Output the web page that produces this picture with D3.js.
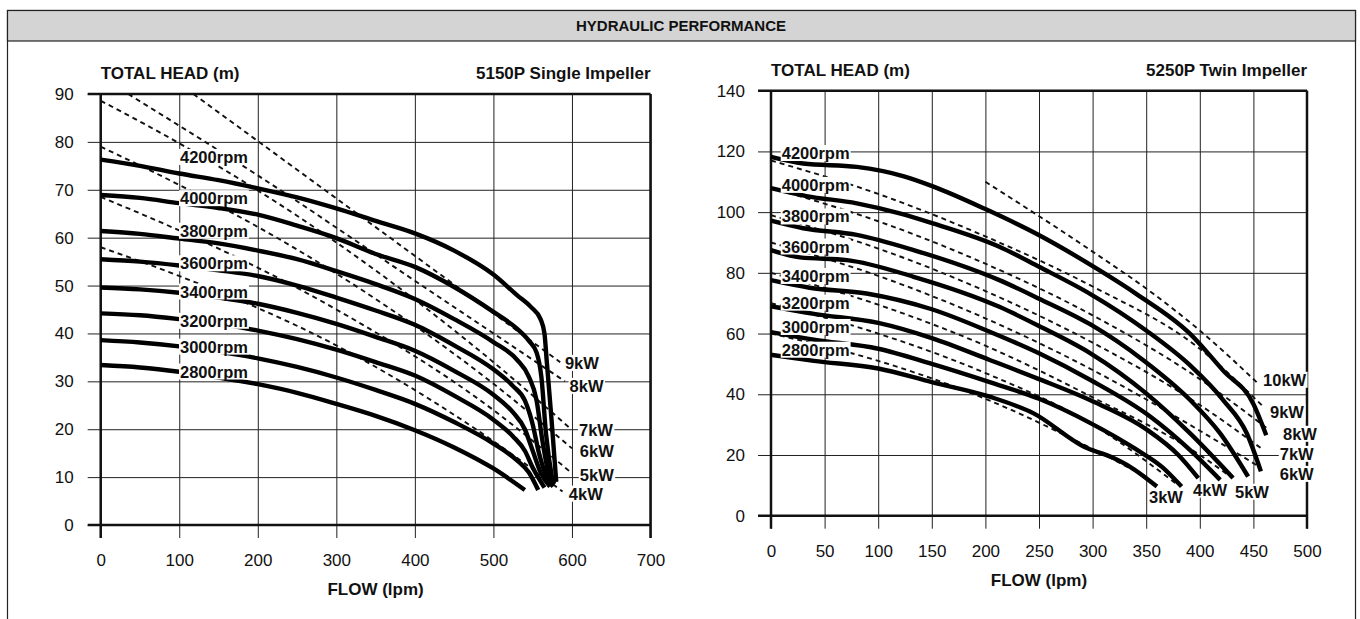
<!DOCTYPE html>
<html>
<head>
<meta charset="utf-8">
<script src="https://d3js.org/d3.v7.min.js"></script>
<style>
  body { margin: 0; background: #fff; }
  svg text { font-family: "Liberation Sans", Arial, sans-serif; fill: #111; }
</style>
</head>
<body>
<svg id="chart" width="1360" height="619"></svg>
<script>
// values (flow lpm, head m)

// 5150P single impeller
const singleFlowTicks = [0, 100, 200, 300, 400, 500, 600, 700];
const singleHeadTicks = [0, 10, 20, 30, 40, 50, 60, 70, 80, 90];
const singleSpeeds = ["4200rpm", "4000rpm", "3800rpm", "3600rpm", "3400rpm", "3200rpm", "3000rpm", "2800rpm"];
const singleCurves = [
  [[0,76.3],[50,75],[100,73.4],[150,72],[200,70.3],[250,68.4],[300,66.1],[350,63.5],[400,60.9],[450,57.3],[500,52.3],[530,48],[548,45.5],[560,43],[565,40],[568,34],[574,22],[580,9]],
  [[0,68.9],[50,68.3],[100,67.2],[150,66.2],[200,64.8],[250,62.5],[300,59.9],[350,56.6],[400,53.9],[450,49.7],[500,44.5],[530,41],[545,38.5],[555,36],[561,31],[567,19],[576,8.5]],
  [[0,61.4],[50,60.8],[100,59.8],[150,58.8],[200,57.3],[250,55.5],[300,53],[350,50.3],[400,47.2],[450,43],[500,38.2],[530,34.5],[545,31],[555,26],[562,18],[570,11],[578,8.5]],
  [[0,55.5],[50,55],[100,54.2],[150,53.2],[200,52],[250,50],[300,47.5],[350,44.8],[400,41.8],[450,37.5],[500,32.5],[525,29],[540,26],[550,21],[558,15],[568,10],[576,8]],
  [[0,49.6],[50,49.2],[100,48.5],[150,47.5],[200,46.2],[250,44.3],[300,42],[350,39.3],[400,36.4],[450,32.2],[500,27.2],[525,23.5],[540,20],[550,15.5],[560,11],[572,8]],
  [[0,44.2],[50,43.8],[100,43],[150,42],[200,40.6],[250,38.8],[300,36.6],[350,34],[400,31.2],[450,27],[500,22],[525,18.5],[540,15.5],[550,12],[565,7.8]],
  [[0,38.6],[50,38.1],[100,37.3],[150,36.2],[200,34.8],[250,33],[300,30.8],[350,28.2],[400,25.3],[450,21.5],[500,17],[530,13.5],[545,11],[557,7.3]],
  [[0,33.4],[50,32.9],[100,32],[150,30.8],[200,29.4],[250,27.6],[300,25.3],[350,22.8],[400,19.8],[450,16.2],[500,11.8],[540,7.3]]
];
const singleSpeedTags = [[101,76.8],[101,68.2],[101,61.4],[101,54.6],[101,48.7],[101,42.6],[101,37.2],[101,32]];
const singlePowers = ["9kW", "8kW", "7kW", "6kW", "5kW", "4kW"];
const singlePowerLines = [
  [[118,90],[350,62.2],[585,34]],
  [[35,90],[200,73],[400,51],[591,30]],
  [[0,88.6],[100,79.7],[300,59],[500,34],[599,20]],
  [[0,79],[100,71],[300,52.5],[500,29.5],[600,16]],
  [[0,68.5],[100,61.5],[300,45],[500,24],[600,10.8]],
  [[0,58],[100,52],[300,37.5],[500,17.5],[588,7]]
];
const singlePowerTags = [[591,33.8],[597,29],[609,19.8],[610,15.4],[610,10.4],[596,6.5]];

// 5250P twin impeller
const twinFlowTicks = [0, 50, 100, 150, 200, 250, 300, 350, 400, 450, 500];
const twinHeadTicks = [0, 20, 40, 60, 80, 100, 120, 140];
const twinSpeeds = ["4200rpm", "4000rpm", "3800rpm", "3600rpm", "3400rpm", "3200rpm", "3000rpm", "2800rpm"];
const twinCurves = [
  [[0,118.2],[30,116],[80,114.9],[124,111.8],[151,108.5],[200,101],[248,92.8],[307,80.7],[341,73],[391,59.9],[422,47.7],[450,36.8],[462,26.5]],
  [[0,107.9],[33,105.3],[80,102.9],[120,99.6],[151,96.3],[213,88.6],[250,82],[298,73],[350,61],[391,49.5],[422,38],[444,27],[457,14.6]],
  [[0,97.2],[30,94.7],[80,92.5],[133,87.5],[213,77.6],[250,71.5],[298,63],[347,51.3],[391,38.1],[419,27.1],[445,12.9]],
  [[0,87.5],[27,85.1],[71,84.2],[133,78.7],[213,68.8],[250,62.5],[298,53.5],[350,40.3],[391,27.1],[431,12.4]],
  [[0,77.6],[36,75.1],[89,73.2],[150,68],[204,60.6],[250,53.5],[298,44.7],[354,32.6],[391,21.6],[419,11.8]],
  [[0,69],[40,66.5],[100,63.5],[150,58.5],[204,51.3],[250,45],[298,38],[350,28.5],[380,20],[398.6,12.4]],
  [[0,60.5],[40,58],[100,55],[150,50],[204,44],[250,38.5],[298,30.5],[340,22],[365,16],[383,9.6]],
  [[0,53],[40,51],[100,48.5],[150,44],[204,39.2],[245,33.7],[292,22.7],[320,18.9],[335,16.1],[360,9.6]]
];
const twinSpeedTags = [[10,119.4],[10,108.9],[10,98.5],[10,88.6],[10,78.9],[10,70.1],[10,62.1],[10,54.6]];
const twinPowers = ["10kW", "9kW", "8kW", "7kW", "6kW", "5kW", "4kW", "3kW"];
const twinPowerLines = [
  [[200,110],[300,87],[357,73],[400,61],[453,44]],
  [[0,117],[100,106],[200,92],[300,75.5],[400,55],[459,36]],
  [[0,108],[100,97],[200,83],[300,66],[400,45],[462,29]],
  [[0,99],[100,88],[200,74],[300,57],[400,36.5],[458,22]],
  [[0,90],[100,79],[200,65],[300,48],[400,28],[456,16]],
  [[0,80],[100,69.5],[200,56],[300,39],[400,20],[430,12.5]],
  [[0,70],[100,60],[200,47],[300,30],[380,10]],
  [[0,60],[100,51],[200,38.5],[300,22],[350,12.8]]
];
const twinPowerTags = [[459,44.7],[465.5,34.2],[477.6,26.9],[474.6,20.3],[474.6,13.7],[432.8,7.8],[393.7,8.5],[352.6,6.2]];

const svg = d3.select("#chart");

// outer frame and header band
svg.append("rect").attr("x", 7.5).attr("y", 10.5).attr("width", 1348).attr("height", 640)
  .attr("fill", "none").attr("stroke", "#222").attr("stroke-width", 1.2);
svg.append("rect").attr("x", 7.5).attr("y", 10.5).attr("width", 1348).attr("height", 30.5)
  .attr("fill", "#d4d4d4").attr("stroke", "#222").attr("stroke-width", 1.2);
svg.append("text").attr("x", 681).attr("y", 26).attr("dy", "0.35em")
  .attr("text-anchor", "middle").attr("font-size", 15).attr("font-weight", "bold")
  .text("HYDRAULIC PERFORMANCE");

function tag(g, txt, px, py) {
  var t = g.append("text").attr("x", px).attr("y", py).attr("dy", "0.35em")
    .attr("font-size", 16.5).attr("font-weight", "bold").text(txt);
  var b = t.node().getBBox();
  g.insert("rect", function() { return t.node(); })
    .attr("x", b.x - 1).attr("y", b.y + 1).attr("width", b.width + 2).attr("height", b.height - 2)
    .attr("fill", "#fff");
}

function drawPanel(p) {
  var x = d3.scaleLinear().domain([0, p.flowMax]).range([p.left, p.right]);
  var y = d3.scaleLinear().domain([0, p.headMax]).range([p.bottom, p.top]);
  var stub = 13;
  var g = svg.append("g");

  // grid lines come from the axis ticks
  g.append("g")
    .attr("transform", "translate(0," + (p.bottom + stub) + ")")
    .call(d3.axisBottom(x).tickValues(p.flowTicks).tickSize(-(p.bottom + stub - p.top)).tickPadding(16))
    .call(function(a) { a.select(".domain").remove(); })
    .attr("font-family", null).attr("font-size", 17)
    .call(function(a) { a.selectAll("line").attr("stroke", "#222").attr("stroke-width", 1); });

  g.append("g")
    .attr("transform", "translate(" + (p.left - stub) + ",0)")
    .call(d3.axisLeft(y).tickValues(p.headTicks).tickSize(-(p.right - p.left + stub)).tickPadding(p.yPad))
    .call(function(a) { a.select(".domain").remove(); })
    .attr("font-family", null).attr("font-size", 17)
    .call(function(a) { a.selectAll("line").attr("stroke", "#222").attr("stroke-width", 1); });

  // heavy frame of the plot
  var heavy = [
    [p.left, p.top, p.left, p.bottom + stub],
    [p.right, p.top, p.right, p.bottom + stub],
    [p.left - stub, p.bottom, p.right, p.bottom],
    [p.left - stub, p.top, p.right, p.top]
  ];
  g.selectAll(".heavy").data(heavy).enter().append("line")
    .attr("x1", d => d[0]).attr("y1", d => d[1]).attr("x2", d => d[2]).attr("y2", d => d[3])
    .attr("stroke", "#111").attr("stroke-width", 2.5);

  var line = d3.line().x(d => x(d[0])).y(d => y(d[1])).curve(d3.curveMonotoneX);

  g.selectAll(".kw").data(p.powerLines).enter().append("path")
    .attr("d", line).attr("fill", "none").attr("stroke", "#111")
    .attr("stroke-width", 1.9).attr("stroke-dasharray", "5,4");

  g.selectAll(".rpm").data(p.curves).enter().append("path")
    .attr("d", line).attr("fill", "none").attr("stroke", "#000")
    .attr("stroke-width", 4.4);

  p.speeds.forEach(function(s, i) { tag(g, s, x(p.speedTags[i][0]), y(p.speedTags[i][1])); });
  p.powers.forEach(function(s, i) { tag(g, s, x(p.powerTags[i][0]), y(p.powerTags[i][1])); });

  g.append("text").attr("x", p.left).attr("y", p.top - 15)
    .attr("font-size", 17).attr("font-weight", "bold").text("TOTAL HEAD (m)");
  g.append("text").attr("x", p.right).attr("y", p.top - 15).attr("text-anchor", "end")
    .attr("font-size", 17).attr("font-weight", "bold").text(p.title);
  g.append("text").attr("x", (p.left + p.right) / 2).attr("y", p.bottom + 70).attr("text-anchor", "middle")
    .attr("font-size", 17).attr("font-weight", "bold").text("FLOW (lpm)");
}

drawPanel({
  left: 100.7, right: 650.5, top: 94, bottom: 525, yPad: 14,
  flowMax: 700, headMax: 90,
  flowTicks: singleFlowTicks, headTicks: singleHeadTicks,
  title: "5150P Single Impeller",
  speeds: singleSpeeds, curves: singleCurves, speedTags: singleSpeedTags,
  powers: singlePowers, powerLines: singlePowerLines, powerTags: singlePowerTags
});

drawPanel({
  left: 771, right: 1307, top: 90.7, bottom: 515.7, yPad: 13,
  flowMax: 500, headMax: 140,
  flowTicks: twinFlowTicks, headTicks: twinHeadTicks,
  title: "5250P Twin Impeller",
  speeds: twinSpeeds, curves: twinCurves, speedTags: twinSpeedTags,
  powers: twinPowers, powerLines: twinPowerLines, powerTags: twinPowerTags
});
</script>
</body>
</html>
